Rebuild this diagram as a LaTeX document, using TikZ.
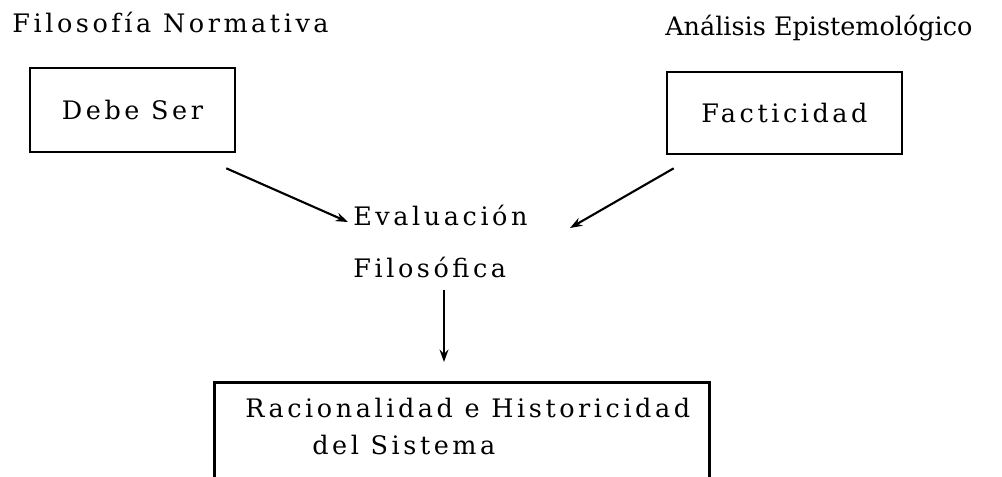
\documentclass[tikz,border=0pt]{standalone}
\usepackage{fontspec}
\setmainfont{DejaVu Serif}[LetterSpace=14]
\usetikzlibrary{arrows.meta, calc}

\begin{document}
\begin{tikzpicture}[
  x=0.02cm, y=-0.02cm,
  every node/.style={font=\fontsize{14.5pt}{18pt}\selectfont, inner sep=0pt},
  box/.style={draw, rectangle, line width=1.5pt},
  word/.style={anchor=base west},
  arrow/.style={-{Stealth[length=7pt, width=5pt]}, line width=1.2pt}
]
  \useasboundingbox (0,0) rectangle (1002,477);
  \clip (0,0) rectangle (1002,477);
  \fill[white] (0,0) rectangle (1002,477);

  \node[word] (norm) at (12,32) {Filosofía Normativa};
  \node[word, font=\fontsize{14.5pt}{18pt}\selectfont\addfontfeatures{LetterSpace=0}] (epist) at (665,35) {Análisis Epistemológico};

  \node[box, minimum width=4.1cm, minimum height=1.68cm] (debe) at (132.5,110) {Debe Ser};
  \node[box, minimum width=4.7cm, minimum height=1.64cm] (fact) at (784.5,113) {Facticidad};

  \node[word] (eval) at (353,225) {Evaluación};
  \node[word] (filo) at (353,277) {Filosófica};

  \node[box, anchor=north west, minimum width=9.9cm, minimum height=2.4cm] (sist) at (213,381) {};
  \node[word] (racio) at (245,417) {Racionalidad e Historicidad};
  \node[word] (del) at (312,454) {del Sistema};

  \draw[arrow] ($(debe.south east)+(-10,15)$) -- ($(eval.base west)+(-5,-3)$);
  \draw[arrow] ($(fact.south west)+(8,13)$) -- ($(eval.base west)+(217,3)$);
  \coordinate (top) at ($(filo.base west)+(91,13)$);
  \draw[arrow, shorten >=0.38cm] (top) -- (top |- sist.north);
\end{tikzpicture}
\end{document}
